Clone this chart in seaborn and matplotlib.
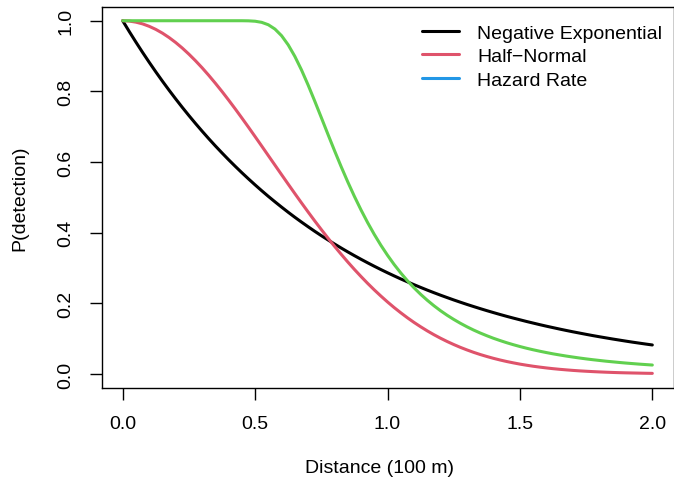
import numpy as np
import pandas as pd
import matplotlib
matplotlib.use("Agg")
import matplotlib.pyplot as plt
from matplotlib.lines import Line2D
import seaborn as sns

# distance (100 m) and detection probabilities
distance = [0.000, 0.025, 0.050, 0.075, 0.100, 0.125, 0.150, 0.175, 0.200, 0.225,
            0.250, 0.275, 0.300, 0.325, 0.350, 0.375, 0.400, 0.425, 0.450, 0.475,
            0.500, 0.525, 0.550, 0.575, 0.600, 0.625, 0.650, 0.675, 0.700, 0.725,
            0.750, 0.775, 0.800, 0.825, 0.850, 0.875, 0.900, 0.925, 0.950, 0.975,
            1.000, 1.025, 1.050, 1.075, 1.100, 1.125, 1.150, 1.175, 1.200, 1.225,
            1.250, 1.275, 1.300, 1.325, 1.350, 1.375, 1.400, 1.425, 1.450, 1.475,
            1.500, 1.525, 1.550, 1.575, 1.600, 1.625, 1.650, 1.675, 1.700, 1.725,
            1.750, 1.775, 1.800, 1.825, 1.850, 1.875, 1.900, 1.925, 1.950, 1.975,
            2.000]

neg_exp = [1.0000, 0.9692, 0.9394, 0.9105, 0.8825, 0.8553, 0.8290, 0.8035, 0.7788, 0.7548,
           0.7316, 0.7091, 0.6873, 0.6661, 0.6456, 0.6258, 0.6065, 0.5879, 0.5698, 0.5523,
           0.5353, 0.5188, 0.5028, 0.4874, 0.4724, 0.4578, 0.4437, 0.4301, 0.4169, 0.4040,
           0.3916, 0.3796, 0.3679, 0.3566, 0.3456, 0.3350, 0.3247, 0.3147, 0.3050, 0.2956,
           0.2865, 0.2777, 0.2691, 0.2609, 0.2528, 0.2451, 0.2375, 0.2302, 0.2231, 0.2163,
           0.2096, 0.2032, 0.1969, 0.1909, 0.1850, 0.1793, 0.1738, 0.1684, 0.1632, 0.1582,
           0.1534, 0.1486, 0.1441, 0.1396, 0.1353, 0.1312, 0.1271, 0.1232, 0.1194, 0.1158,
           0.1122, 0.1087, 0.1054, 0.1022, 0.0990, 0.0960, 0.0930, 0.0901, 0.0874, 0.0847,
           0.0821]

half_normal = [1.0000, 0.9990, 0.9960, 0.9911, 0.9842, 0.9755, 0.9649, 0.9525, 0.9384, 0.9227,
               0.9054, 0.8867, 0.8667, 0.8454, 0.8230, 0.7997, 0.7754, 0.7504, 0.7247, 0.6986,
               0.6720, 0.6452, 0.6182, 0.5912, 0.5642, 0.5374, 0.5108, 0.4846, 0.4588, 0.4335,
               0.4089, 0.3848, 0.3614, 0.3389, 0.3170, 0.2960, 0.2759, 0.2565, 0.2381, 0.2206,
               0.2039, 0.1881, 0.1733, 0.1592, 0.1460, 0.1337, 0.1221, 0.1113, 0.1013, 0.0920,
               0.0834, 0.0754, 0.0681, 0.0613, 0.0551, 0.0495, 0.0443, 0.0396, 0.0353, 0.0315,
               0.0279, 0.0248, 0.0219, 0.0194, 0.0171, 0.0150, 0.0132, 0.0116, 0.0101, 0.0088,
               0.0077, 0.0067, 0.0058, 0.0050, 0.0043, 0.0037, 0.0032, 0.0028, 0.0024, 0.0020,
               0.0017]

hazard_rate = [1.0000, 1.0000, 1.0000, 1.0000, 1.0000, 1.0000, 1.0000, 1.0000, 1.0000, 1.0000,
               1.0000, 1.0000, 1.0000, 1.0000, 1.0000, 1.0000, 1.0000, 1.0000, 1.0000, 0.9997,
               0.9986, 0.9954, 0.9886, 0.9764, 0.9576, 0.9317, 0.8992, 0.8610, 0.8184, 0.7729,
               0.7260, 0.6787, 0.6321, 0.5869, 0.5437, 0.5028, 0.4644, 0.4285, 0.3952, 0.3644,
               0.3361, 0.3100, 0.2861, 0.2641, 0.2440, 0.2256, 0.2088, 0.1934, 0.1792, 0.1663,
               0.1545, 0.1436, 0.1336, 0.1244, 0.1160, 0.1083, 0.1011, 0.0946, 0.0885, 0.0829,
               0.0777, 0.0729, 0.0685, 0.0644, 0.0606, 0.0570, 0.0538, 0.0507, 0.0479, 0.0452,
               0.0427, 0.0404, 0.0383, 0.0362, 0.0344, 0.0326, 0.0309, 0.0294, 0.0279, 0.0266,
               0.0253]

models = ["Negative Exponential", "Half-Normal", "Hazard Rate"]
line_colors = ["#000000", "#DF536B", "#61D04F"]
legend_colors = ["#000000", "#DF536B", "#2297E6"]
legend_labels = ["Negative Exponential", "Half\u2212Normal", "Hazard Rate"]

x_ticks = [0.0, 0.5, 1.0, 1.5, 2.0]
y_ticks = [0.0, 0.2, 0.4, 0.6, 0.8, 1.0]

df = pd.DataFrame({
    "Distance": distance * 3,
    "P": neg_exp + half_normal + hazard_rate,
    "Model": [m for m in models for _ in distance],
})

sns.set_style("ticks")
plt.rcParams["font.family"] = ["Liberation Sans", "DejaVu Sans"]
plt.rcParams["text.color"] = "black"

fig = plt.figure(figsize=(6.74, 4.85), dpi=100)
ax = fig.add_axes([101.5 / 674, 1 - 389.1 / 485, 572 / 674, 381.5 / 485])

sns.lineplot(data=df, x="Distance", y="P", hue="Model", hue_order=models,
             palette=line_colors, estimator=None, sort=False, linewidth=2.2,
             legend=False, ax=ax)

ax.set_xlim(-0.08, 2.08)
ax.set_ylim(-0.04, 1.04)
ax.set_xticks(x_ticks)
ax.set_xticklabels(["%.1f" % v for v in x_ticks])
ax.set_yticks(y_ticks)
ax.set_yticklabels(["%.1f" % v for v in y_ticks], rotation=90, va="center")

for s in ax.spines.values():
    s.set_visible(True)
    s.set_color("black")
    s.set_linewidth(1.0)

ax.tick_params(axis="both", length=8.6, width=1.0, color="black",
               labelsize=14, labelcolor="black", pad=11)

ax.set_xlabel("Distance (100 m)", fontsize=14, color="black")
ax.set_ylabel("P(detection)", fontsize=14, color="black")
ax.xaxis.set_label_coords(0.5 - 8 / 572, -0.186)
ax.yaxis.set_label_coords(-0.128, 0.5)

handles = [Line2D([], [], color=c, linewidth=2.2) for c in legend_colors]
ax.legend(handles, legend_labels, loc="upper left",
          bbox_to_anchor=(421.7 / 674, 1 - 25.0 / 485), bbox_transform=fig.transFigure,
          frameon=False, fontsize=14, borderpad=0, borderaxespad=0,
          handlelength=1.92, handletextpad=0.93, labelspacing=0.3, labelcolor="black")

fig.savefig("out.png", dpi=100)
